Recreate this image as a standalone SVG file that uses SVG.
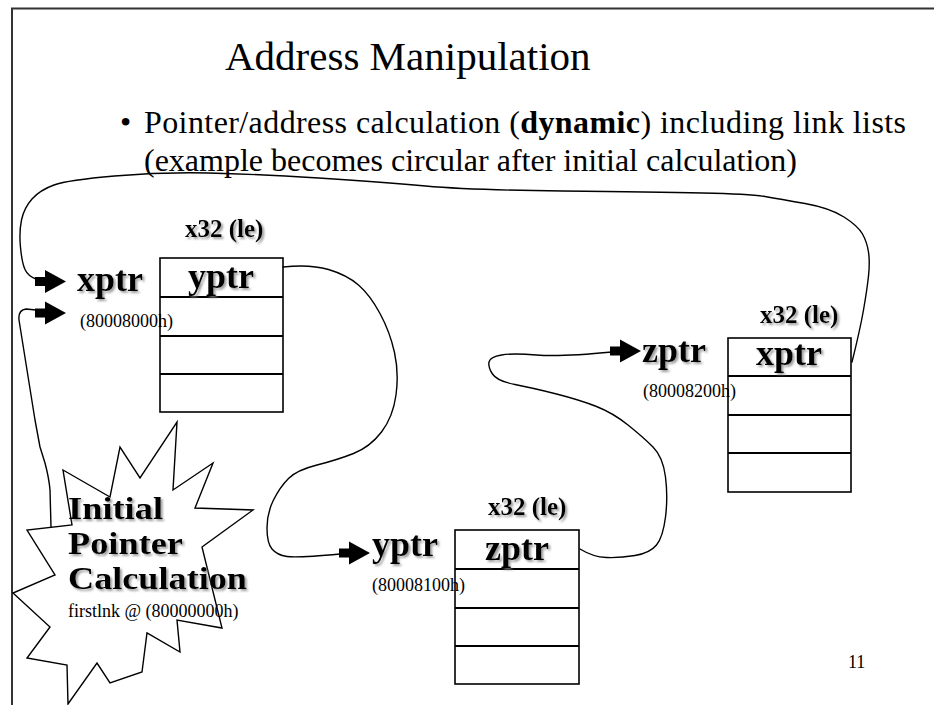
<svg xmlns="http://www.w3.org/2000/svg" width="934" height="705" viewBox="0 0 934 705">
  <defs>
    <filter id="shadow" x="-10%" y="-20%" width="130%" height="150%">
      <feDropShadow dx="2" dy="2" stdDeviation="0.8" flood-color="#808080" flood-opacity="0.75"/>
    </filter>
    <!-- block arrow, tip at the origin, pointing right -->
    <path id="blockArrow" d="M-31,-4.5 H-21 V-11.5 L0,0 L-21,11.5 V4.5 H-31 Z"/>
  </defs>
  <style>
    text { font-family: "Liberation Serif", "Times New Roman", serif; fill: #000; }
    .title { font-size: 41px; }
    .bullet { font-size: 32px; }
    .label { font-size: 36px; font-weight: bold; filter: url(#shadow); }
    .cell { font-size: 36px; font-weight: bold; filter: url(#shadow); text-anchor: middle; }
    .type { font-size: 25px; font-weight: bold; filter: url(#shadow); }
    .addr { font-size: 18px; }
    .burst { font-size: 31.5px; font-weight: bold; filter: url(#shadow); }
    .frame { stroke: #333; stroke-width: 2; fill: none; }
    .box { fill: none; stroke: #000; stroke-width: 1.6; }
    .div { stroke: #000; stroke-width: 2; }
    .link { fill: none; stroke: #000; stroke-width: 1.4; stroke-linejoin: round; stroke-linecap: round; }
    .arrow { fill: #000; }
  </style>

  <!-- slide frame -->
  <path class="frame" d="M11,8.5 H934 M12,8 V705"/>

  <!-- heading and bullet text -->
  <text class="title" x="225" y="70">Address Manipulation</text>
  <text class="bullet" x="120" y="133">•</text>
  <text class="bullet" x="144" y="133" textLength="762" lengthAdjust="spacing">Pointer/address calculation (<tspan font-weight="bold">dynamic</tspan>) including link lists</text>
  <text class="bullet" x="144" y="171">(example becomes circular after initial calculation)</text>

  <!-- initial calculation burst -->
  <g id="burst">
    <polygon fill="none" stroke="#000" stroke-width="1.4" stroke-linejoin="miter"
      points="63,470 110,497 120,447 140,478 177,422 173,490 213,463 195,508 253,510 202,547 222,628 177,620 180,652 147,633 142,672 110,683 97,663 68,704 67,665 27,658 50,627 13,593 55,575 27,530 72,525"/>
    <text class="burst" x="68" y="519" textLength="95" lengthAdjust="spacingAndGlyphs">Initial</text>
    <text class="burst" x="68" y="554" textLength="115" lengthAdjust="spacingAndGlyphs">Pointer</text>
    <text class="burst" x="68" y="589" textLength="179" lengthAdjust="spacingAndGlyphs">Calculation</text>
    <text class="addr" x="68" y="617">firstlnk @ (80000000h)</text>
  </g>

  <!-- record at 80008000h -->
  <g id="node-x">
    <text class="type" x="185" y="237">x32 (le)</text>
    <text class="label" x="77" y="291">xptr</text>
    <text class="addr" x="80" y="327">(80008000h)</text>
    <rect class="box" x="160" y="258" width="123" height="154"/>
    <path class="div" d="M160,297 H283 M160,336 H283 M160,374 H283"/>
    <text class="cell" x="221" y="288">yptr</text>
  </g>

  <!-- record at 80008100h -->
  <g id="node-y">
    <text class="type" x="488" y="515">x32 (le)</text>
    <text class="label" x="372" y="556">yptr</text>
    <text class="addr" x="372" y="591">(80008100h)</text>
    <rect class="box" x="455" y="530" width="124" height="154"/>
    <path class="div" d="M455,569 H579 M455,608 H579 M455,646 H579"/>
    <text class="cell" x="517" y="560">zptr</text>
  </g>

  <!-- record at 80008200h -->
  <g id="node-z">
    <text class="type" x="760" y="323">x32 (le)</text>
    <text class="label" x="642" y="362">zptr</text>
    <text class="addr" x="643" y="397">(80008200h)</text>
    <rect class="box" x="728" y="338" width="123" height="154"/>
    <path class="div" d="M728,376 H851 M728,415 H851 M728,453 H851"/>
    <text class="cell" x="789" y="365">xptr</text>
  </g>

  <!-- pointer links -->
  <g id="links">
    <path class="link" d="M852,362 Q860,330 863.5,310 Q867,290 868.5,276 Q870,262 868.5,252 Q867,242 862.5,234 Q858,226 844,217 Q830,208 805,203.5 Q780,199 765,196.5 Q750,194 702.5,193 Q655,192 562.5,191 Q470,190 425.5,186 Q381,182 318.5,178 Q256,174 208.5,173 Q161,172 114.5,176 Q68,180 54,185 Q40,190 32,199 Q24,208 21.5,220 Q19,232 20.5,247.5 Q22,263 25,269.5 Q28,276 36,279"/>
    <path class="link" d="M283,267 Q310,264 328.5,269.5 Q347,275 358.5,285 Q370,295 380,313.5 Q390,332 394.5,352.5 Q399,373 396,395 Q393,417 381.5,432 Q370,447 353.5,453.5 Q337,460 317,465 Q297,470 288.5,478.5 Q280,487 273.5,500 Q267,513 267,528 Q267,543 272,549 Q277,555 287,556.5 Q297,558 340,554"/>
    <path class="link" d="M580,549 Q593,557 606.5,557.5 Q620,558 635,555.5 Q650,553 656.5,545 Q663,537 665.5,517 Q668,497 665.5,477 Q663,457 653,447 Q643,437 628,425 Q613,413 596.5,406.5 Q580,400 556.5,394 Q533,388 515,384.5 Q497,381 492.5,374 Q488,367 489,362 Q490,357 501.5,355 Q513,353 536.5,355 Q560,357 612,352"/>
    <path class="link" d="M51,527 L50,490 Q49,478 45,463 L40,447 L35,420 L19,320 Q18,310 26,309 L36,310"/>
    <use href="#blockArrow" class="arrow" transform="translate(66,281.5)"/>
    <use href="#blockArrow" class="arrow" transform="translate(66,313)"/>
    <use href="#blockArrow" class="arrow" transform="translate(370,553)"/>
    <use href="#blockArrow" class="arrow" transform="translate(641,351)"/>
  </g>

  <text class="addr" x="848" y="668">11</text>
</svg>
